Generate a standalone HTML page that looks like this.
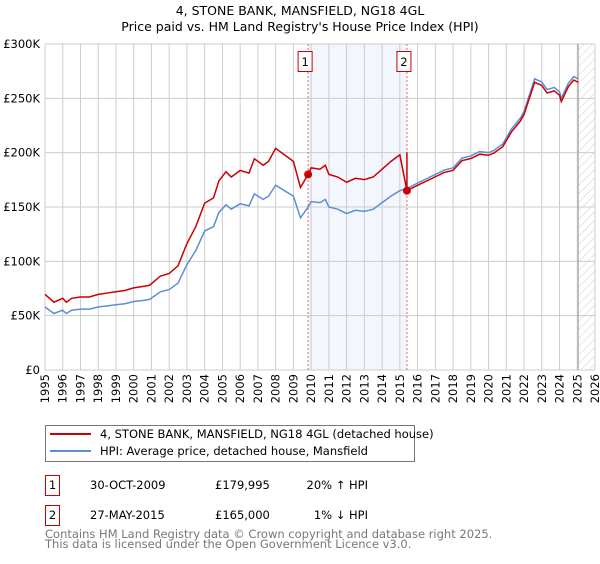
<!DOCTYPE html>
<html><head><meta charset="utf-8"><style>
body{margin:0;background:#fff;font-family:"DejaVu Sans","Liberation Sans",sans-serif;}
</style></head><body>
<svg id="c" width="600" height="560" xmlns="http://www.w3.org/2000/svg" style="font-family:'DejaVu Sans','Liberation Sans',sans-serif">
<defs><pattern id="hatch" width="6" height="6" patternUnits="userSpaceOnUse" patternTransform="rotate(45)"><line x1="0" y1="0" x2="0" y2="6" stroke="#ccc" stroke-width="1"/></pattern></defs>
<text x="300" y="15" text-anchor="middle" font-size="12.5">4, STONE BANK, MANSFIELD, NG18 4GL</text>
<text x="300" y="31" text-anchor="middle" font-size="12.5">Price paid vs. HM Land Registry's House Price Index (HPI)</text>
<g id="grid"></g><g id="marks"></g><g id="axes"></g>
<g>
<rect x="45.5" y="425.5" width="369" height="36" fill="#fff" stroke="#777"/>
<line x1="50" y1="434" x2="91" y2="434" stroke="#cc0000" stroke-width="2"/>
<text x="100" y="438" font-size="11.5">4, STONE BANK, MANSFIELD, NG18 4GL (detached house)</text>
<line x1="50" y1="451" x2="91" y2="451" stroke="#5b8fd4" stroke-width="2"/>
<text x="100" y="455" font-size="11.5">HPI: Average price, detached house, Mansfield</text>
</g>
<g font-size="11.5">
<rect x="45.5" y="475.5" width="14" height="20" fill="#fff" stroke="#cc0000"/><text x="52.5" y="489" text-anchor="middle">1</text>
<text x="90" y="489">30-OCT-2009</text><text x="215" y="489">£179,995</text><text x="368" y="489" text-anchor="end">20% ↑ HPI</text>
<rect x="45.5" y="505.5" width="14" height="20" fill="#fff" stroke="#cc0000"/><text x="52.5" y="519" text-anchor="middle">2</text>
<text x="90" y="519">27-MAY-2015</text><text x="215" y="519">£165,000</text><text x="368" y="519" text-anchor="end">1% ↓ HPI</text>
</g>
<text x="45" y="538" font-size="11.5" fill="#777">Contains HM Land Registry data © Crown copyright and database right 2025.</text>
<text x="45" y="548" font-size="11.5" fill="#777">This data is licensed under the Open Government Licence v3.0.</text>
</svg>
<script>
const yTicks=[0,50,100,150,200,250,300];
const yTickLabels=["£0","£50K","£100K","£150K","£200K","£250K","£300K"];
const years=[1995,1996,1997,1998,1999,2000,2001,2002,2003,2004,2005,2006,2007,2008,2009,2010,2011,2012,2013,2014,2015,2016,2017,2018,2019,2020,2021,2022,2023,2024,2025,2026];
const hpiT=[1995,1995.5,1996,1996.2,1996.5,1997,1997.5,1998,1998.5,1999,1999.5,2000,2000.5,2000.9,2001.5,2002,2002.5,2003,2003.5,2004,2004.5,2004.8,2005.2,2005.5,2006,2006.5,2006.8,2007.3,2007.6,2008,2008.5,2009,2009.4,2009.83,2010,2010.5,2010.8,2011,2011.5,2012,2012.5,2013,2013.5,2014,2014.5,2015,2015.4,2016,2016.5,2017,2017.5,2018,2018.5,2019,2019.5,2020,2020.3,2020.8,2021.3,2021.8,2022,2022.6,2023,2023.3,2023.7,2024,2024.1,2024.5,2024.8,2025.05];
const hpiV=[58,52,55,52,55,56,56,58,59,60,61,63,64,65,72,74,80,97,110,128,132,145,152,148,153,151,162,157,160,170,165,160,140,150,155,154,157,150,148,144,147,146,148,154,160,165,167,172,176,180,184,186,195,197,201,200,202,208,222,232,238,268,265,258,260,256,250,264,270,268];
const saleT=[2009.83,2015.4];
const saleV=[179.995,165];
const X=t=>45+(t-1995)*(550/31), Y=v=>370-v*(326/300);
const NS="http://www.w3.org/2000/svg";
function mk(p,tag,a){const e=document.createElementNS(NS,tag);for(const k in a)e.setAttribute(k,a[k]);p.appendChild(e);return e;}
const grid=document.getElementById('grid'),marks=document.getElementById('marks'),axes=document.getElementById('axes');
let sh=mk(grid,'rect',{x:X(saleT[0]),y:44,width:X(saleT[1])-X(saleT[0]),height:326,fill:'#eef2fc',opacity:0.7});


let ht=mk(grid,'rect',{x:X(2025.05),y:44,width:595-X(2025.05),height:326,fill:'url(#hatch)'});


years.forEach(y=>{let l=mk(grid,'line',{x1:X(y),x2:X(y),y1:44,y2:370,stroke:'#ccc'});


let t=mk(axes,'text',{x:0,y:0,'font-size':'11.5','text-anchor':'end',transform:`translate(${X(y)+4},374) rotate(-90)`});t.textContent=y;

});
yTicks.forEach((v,i)=>{let l=mk(grid,'line',{x1:45,x2:595,y1:Y(v),y2:Y(v),stroke:'#ccc'});


let t=mk(axes,'text',{x:40,y:Y(v)+4,'font-size':'11.5','text-anchor':'end'});t.textContent=yTickLabels[i];

});
let vl=mk(grid,'line',{x1:X(2025.05),x2:X(2025.05),y1:44,y2:370,stroke:'#999'});


function hpiAt(t){for(let i=1;i<hpiT.length;i++)if(t<=hpiT[i]){const f=(t-hpiT[i-1])/(hpiT[i]-hpiT[i-1]);return hpiV[i-1]+f*(hpiV[i]-hpiV[i-1]);}return hpiV[hpiV.length-1];}
saleT.forEach((t,i)=>{let d=mk(grid,'line',{x1:X(t),x2:X(t),y1:44,y2:370,stroke:'#e66','stroke-dasharray':'2,2'});


let b=mk(axes,'rect',{x:X(t)-10,y:51.5,width:14,height:20,fill:'#fff',stroke:'#cc0000'});


let bt=mk(axes,'text',{x:X(t)-3,y:66,'font-size':'11.5','text-anchor':'middle'});bt.textContent=i+1;

});
let hp=mk(marks,'polyline',{points:hpiT.map((t,i)=>X(t)+','+Y(hpiV[i])).join(' '),fill:'none',stroke:'#5b8fd4','stroke-width':1.5});


const pts=[];const r0=saleV[0]/hpiAt(saleT[0]);
hpiT.forEach((t,i)=>{let k=r0;for(let j=0;j<saleT.length;j++)if(t>=saleT[j])k=saleV[j]/hpiAt(saleT[j]);
if(t>saleT[1]&&pts.length&&!pts.jumped){pts.push(X(saleT[1])+','+Y(hpiAt(saleT[1])*saleV[0]/hpiAt(saleT[0])));pts.push(X(saleT[1])+','+Y(saleV[1]));pts.jumped=true;}
pts.push(X(t)+','+Y(hpiV[i]*k));});
let pl=mk(marks,'polyline',{points:pts.join(' '),fill:'none',stroke:'#cc0000','stroke-width':1.5});


saleT.forEach((t,i)=>{let c=mk(marks,'circle',{cx:X(t),cy:Y(saleV[i]),r:4,fill:'#cc0000'});

});
</script>
</body></html>
